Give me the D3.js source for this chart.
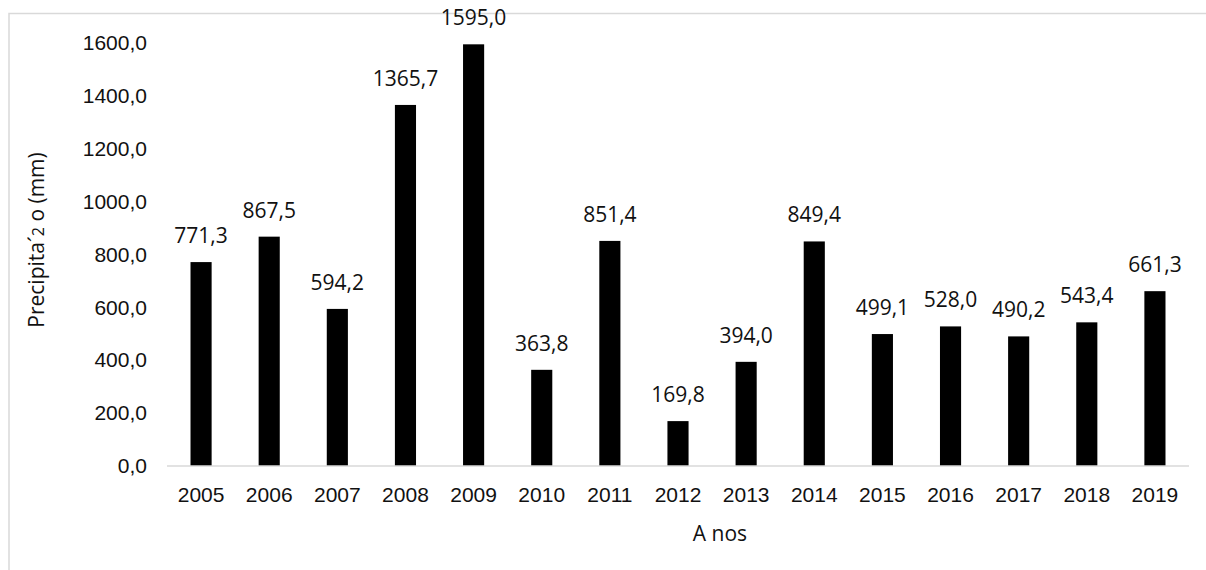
<!DOCTYPE html>
<html>
<head>
<meta charset="utf-8">
<script src="https://cdn.jsdelivr.net/npm/d3@7"></script>
<style>
    body { margin: 0; background: #fff; }
    svg { display: block; font-family: "Open Sans", "Noto Sans", sans-serif; }
    .rc-frame { fill: none; stroke: #d9d9d9; stroke-width: 1.5; }
    .rc-axis-line { stroke: #d9d9d9; stroke-width: 1.5; }
    .rc-bar { fill: #000; }
    .rc-text { fill: #111; font-size: 21px; }
</style>
</head>
<body>
<div id="rc-container"></div>
<script>
const years = ['2005', '2006', '2007', '2008', '2009', '2010', '2011', '2012',
    '2013', '2014', '2015', '2016', '2017', '2018', '2019'];
const rainfall = [771.3, 867.5, 594.2, 1365.7, 1595.0, 363.8, 851.4, 169.8,
    394.0, 849.4, 499.1, 528.0, 490.2, 543.4, 661.3];
const yTicks = [0, 200, 400, 600, 800, 1000, 1200, 1400, 1600];

const width = 1206;
const height = 570;
const plotLeft = 167;
const plotRight = 1189;
const plotTop = 43;
const plotBottom = 466;

// portuguese number format: comma for decimals
const ptLocale = d3.formatLocale({ decimal: ',', thousands: '', grouping: [3], currency: ['R$', ''] });
const fmt = ptLocale.format('.1f');

const svg = d3.select('#rc-container')
    .append('svg')
    .attr('width', width)
    .attr('height', height);

// outer chart border (runs off the right and bottom edges)
svg.append('rect')
    .attr('class', 'rc-frame')
    .attr('x', 9)
    .attr('y', 13.5)
    .attr('width', width)
    .attr('height', height);

const x = d3.scaleBand()
    .domain(years)
    .range([plotLeft, plotRight])
    .paddingInner(0.69)
    .paddingOuter(0.345);

const y = d3.scaleLinear()
    .domain([0, 1600])
    .range([plotBottom, plotTop]);

// bars
svg.selectAll('.rc-bar')
    .data(rainfall)
    .enter()
    .append('rect')
    .attr('class', 'rc-bar')
    .attr('x', (d, i) => x(years[i]))
    .attr('y', d => y(d))
    .attr('width', x.bandwidth())
    .attr('height', d => y(0) - y(d));

// value labels
svg.selectAll('.rc-value')
    .data(rainfall)
    .enter()
    .append('text')
    .attr('class', 'rc-text rc-value')
    .attr('x', (d, i) => x(years[i]) + x.bandwidth() / 2)
    .attr('y', d => y(d) - 19)
    .attr('text-anchor', 'middle')
    .text(d => fmt(d));

// y axis (labels only)
const yAxis = d3.axisLeft(y)
    .tickValues(yTicks)
    .tickSize(0)
    .tickPadding(0)
    .tickFormat(fmt);
const yAxisGroup = svg.append('g')
    .attr('transform', 'translate(147,0)')
    .call(yAxis);
yAxisGroup.select('.domain').remove();
yAxisGroup.selectAll('text')
    .attr('class', 'rc-text')
    .attr('font-family', null)
    .attr('fill', null);

// x axis
const xAxis = d3.axisBottom(x)
    .tickSize(0)
    .tickPadding(0);
const xAxisGroup = svg.append('g')
    .attr('transform', `translate(0,${plotBottom})`)
    .call(xAxis);
xAxisGroup.select('.domain').remove();
xAxisGroup.selectAll('text')
    .attr('class', 'rc-text')
    .attr('font-family', null)
    .attr('fill', null)
    .attr('dy', null)
    .attr('y', 36);

svg.append('line')
    .attr('class', 'rc-axis-line')
    .attr('x1', plotLeft)
    .attr('x2', plotRight)
    .attr('y1', plotBottom)
    .attr('y2', plotBottom);

// axis titles
svg.append('text')
    .attr('class', 'rc-text')
    .attr('x', 720)
    .attr('y', 541)
    .attr('text-anchor', 'middle')
    .text('A nos');

const yTitle = svg.append('text')
    .attr('class', 'rc-text')
    .attr('transform', 'translate(44,240) rotate(-90)')
    .attr('text-anchor', 'middle');
yTitle.append('tspan').text('Precipita´');
yTitle.append('tspan').attr('font-size', '16px').text('2');
yTitle.append('tspan').text(' o (mm)');
</script>
</body>
</html>
